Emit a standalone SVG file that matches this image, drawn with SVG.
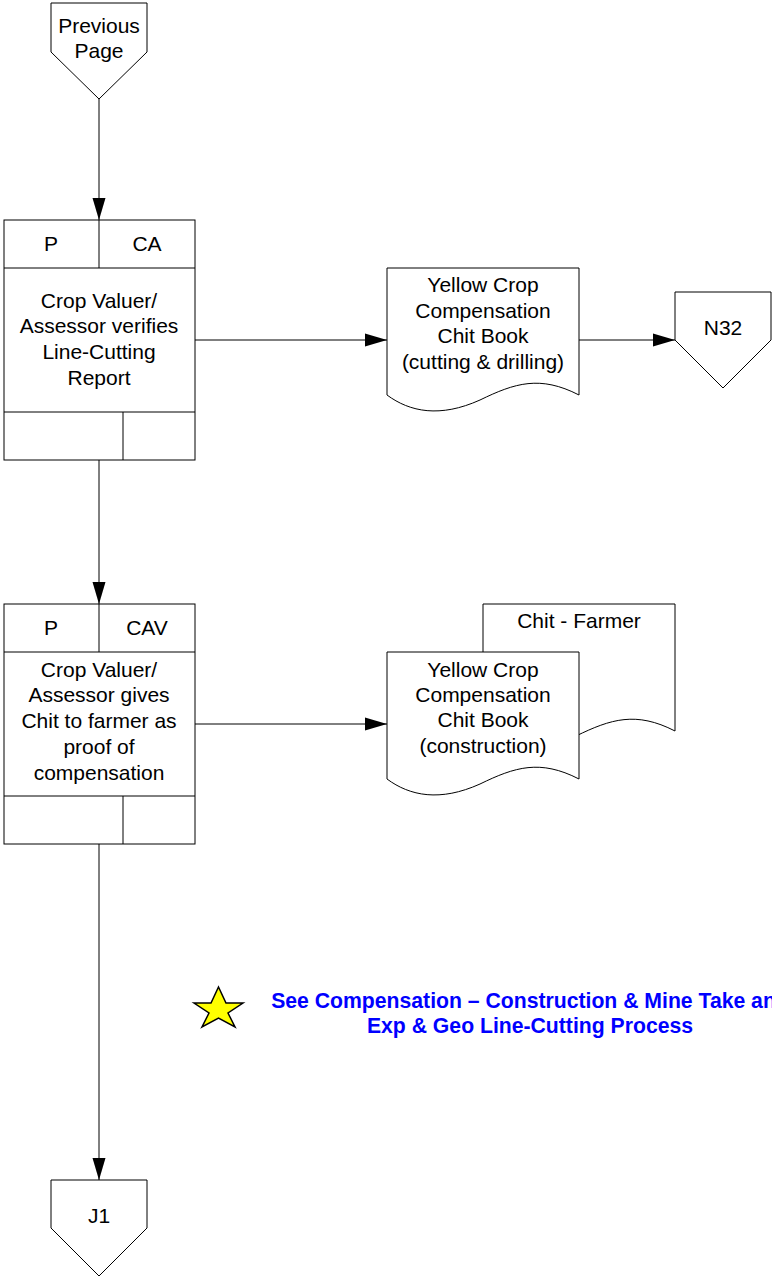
<svg xmlns="http://www.w3.org/2000/svg" width="772" height="1278" viewBox="0 0 772 1278">
<defs>
<marker id="arr" markerWidth="22" markerHeight="14" refX="22" refY="7" orient="auto" markerUnits="userSpaceOnUse">
<path d="M0,0.5 L22,7 L0,13.5 Z" fill="#000"/>
</marker>
<style>
.s{fill:#fff;stroke:#000;stroke-width:1}
.ln{fill:none;stroke:#000;stroke-width:1}
.t{font-family:"Liberation Sans",Arial,sans-serif;font-size:21px;fill:#000;text-anchor:middle}
.b{font-family:"Liberation Sans",Arial,sans-serif;font-size:21.2px;font-weight:bold;fill:#0000FF;text-anchor:middle}
</style>
</defs>
<rect width="772" height="1278" fill="#fff"/>
<g id="connectors">
<path class="ln" d="M99,99 V220" marker-end="url(#arr)"/>
<path class="ln" d="M195,340 H387" marker-end="url(#arr)"/>
<path class="ln" d="M579,340 H675" marker-end="url(#arr)"/>
<path class="ln" d="M99,460 V604" marker-end="url(#arr)"/>
<path class="ln" d="M195,724 H387" marker-end="url(#arr)"/>
<path class="ln" d="M99,844 V1180" marker-end="url(#arr)"/>
</g>
<g id="prev-page">
<path class="s" d="M51,3 H147 V52 L99,99 L51,52 Z"/>
<text class="t" x="99" y="33">Previous</text>
<text class="t" x="99" y="58">Page</text>
</g>
<g id="process1">
<rect class="s" x="4" y="220" width="191" height="240"/>
<path class="ln" d="M4,268 H195 M99,220 V268 M4,412 H195 M123,412 V460"/>
<text class="t" x="51" y="251">P</text>
<text class="t" x="147" y="251">CA</text>
<text class="t" x="99" y="308">Crop Valuer/</text>
<text class="t" x="99" y="333">Assessor verifies</text>
<text class="t" x="99" y="359">Line-Cutting</text>
<text class="t" x="99" y="385">Report</text>
</g>
<g id="doc1">
<path class="s" d="M387,268 H579 V395 C540,375 515,383 480,400 C440,418 410,412 387,395 Z"/>
<text class="t" x="483" y="292">Yellow Crop</text>
<text class="t" x="483" y="318">Compensation</text>
<text class="t" x="483" y="343">Chit Book</text>
<text class="t" x="483" y="369">(cutting &amp; drilling)</text>
</g>
<g id="n32">
<path class="s" d="M675,292 H771 V340 L723,388 L675,340 Z"/>
<text class="t" x="723" y="335">N32</text>
</g>
<g id="process2">
<rect class="s" x="4" y="604" width="191" height="240"/>
<path class="ln" d="M4,652 H195 M99,604 V652 M4,796 H195 M123,796 V844"/>
<text class="t" x="51" y="635">P</text>
<text class="t" x="147" y="635">CAV</text>
<text class="t" x="99" y="677">Crop Valuer/</text>
<text class="t" x="99" y="702">Assessor gives</text>
<text class="t" x="99" y="728">Chit to farmer as</text>
<text class="t" x="99" y="754">proof of</text>
<text class="t" x="99" y="780">compensation</text>
</g>
<g id="doc-chit-farmer">
<path class="s" d="M483,604 H675 V731 C636,711 611,719 576,736 C536,754 506,748 483,731 Z"/>
<text class="t" x="579" y="628">Chit - Farmer</text>
</g>
<g id="doc2">
<path class="s" d="M387,652 H579 V779 C540,759 515,767 480,784 C440,802 410,796 387,779 Z"/>
<text class="t" x="483" y="677">Yellow Crop</text>
<text class="t" x="483" y="702">Compensation</text>
<text class="t" x="483" y="727">Chit Book</text>
<text class="t" x="483" y="753">(construction)</text>
</g>
<g id="j1">
<path class="s" d="M51,1180 H147 V1228 L99,1276 L51,1228 Z"/>
<text class="t" x="99" y="1223">J1</text>
</g>
<g id="note">
<polygon points="218.5,987 226,1003 243,1003 228,1013 235,1027 218.5,1018 202,1027 209,1013 194,1003 211,1003" fill="#FFFF00" stroke="#000" stroke-width="1.5" stroke-linejoin="miter"/>
<text class="b" x="530" y="1008">See Compensation – Construction &amp; Mine Take and</text>
<text class="b" x="530" y="1033">Exp &amp; Geo Line-Cutting Process</text>
</g>
</svg>
